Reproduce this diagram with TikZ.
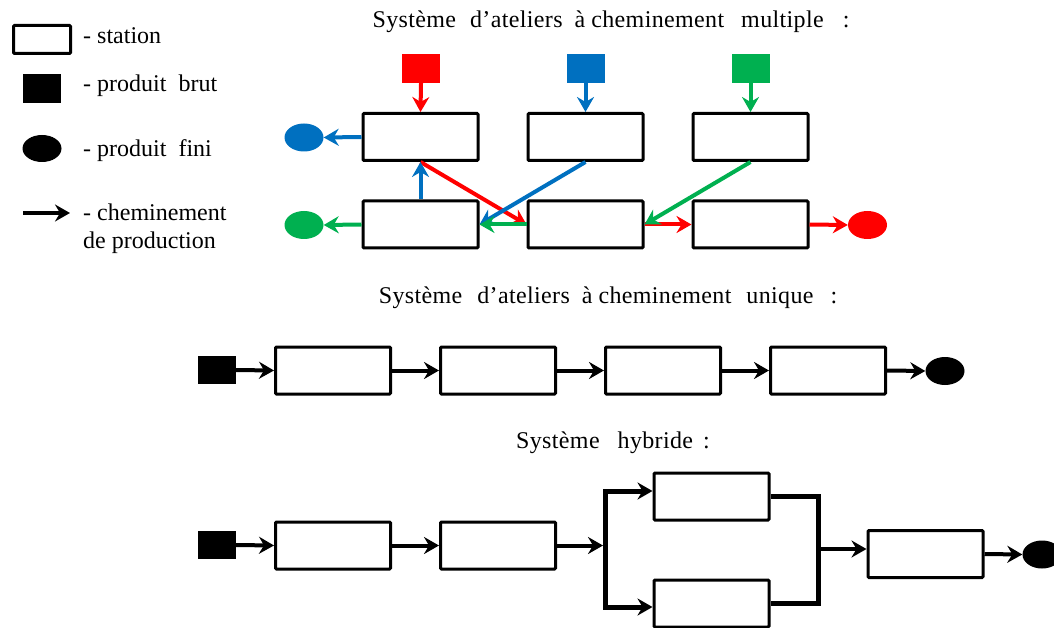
\documentclass[tikz,border=0pt]{standalone}
\usepackage{fontspec}
\setmainfont{Liberation Serif}
\usetikzlibrary{shapes.geometric,arrows.meta,calc}
\definecolor{cred}{HTML}{FF0000}
\definecolor{cblue}{HTML}{0070C0}
\definecolor{cgreen}{HTML}{00B050}
\newcommand{\gp}[1]{\hspace{#1pt}}
\begin{document}
\begin{tikzpicture}[x=1pt,y=-1pt,
  stationbox/.style={draw=black,line width=3pt,rectangle,rounded corners=1pt,fill=white,
     minimum width=115pt,minimum height=47pt,inner sep=0pt},
  rawsq/.style={rectangle,draw=none,minimum width=38pt,minimum height=29pt,inner sep=0pt},
  finiell/.style={ellipse,draw=none,minimum width=39pt,minimum height=28pt,inner sep=0pt},
  tip/.tip={Stealth[length=15pt,width=17pt,inset=5pt]},
  flow/.style={line width=4pt,-tip},
  bar/.style={line width=5pt,line join=miter},
  txt/.style={inner sep=0pt,anchor=base west,font=\fontsize{24}{28}\selectfont},
  ttl/.style={inner sep=0pt,anchor=base,font=\fontsize{24}{28}\selectfont\addfontfeature{LetterSpace=1.5}}
]
\useasboundingbox (0,0) rectangle (1054,628);
\clip (0,0) rectangle (1054,628);

% ---------- legend ----------
\node[stationbox,minimum width=57pt,minimum height=28pt] (lgst) at (42,39.5) {};
\node[rawsq,fill=black] (lgraw) at (42,88.5) {};
\node[finiell,fill=black,minimum height=27pt] (lgfin) at (42,148.5) {};
\coordinate (lga) at (23,213);
\coordinate (lgb) at (70,213);
\draw[flow] (lga) -- (lgb);
\node[txt] (t1) at (83,44) {- station};
\node[txt] (t2) at (83,92) {- produit\ \ brut};
\node[txt] (t3) at (83,157) {- produit\ \ fini};
\node[txt] (t4) at (83,221) {- cheminement};
\node[txt] (t5) at (83,249) {de production};

% ---------- titles ----------
\node[ttl] (ti1) at (611,28) {Système\gp{14}d’ateliers\gp{12}à\gp{6}cheminement\gp{17}multiple\gp{19}:};
\node[ttl] (ti2) at (608,303) {Système\gp{15}d’ateliers\gp{12}à\gp{6}cheminement\gp{15}unique\gp{17}:};
\node[ttl] (ti3) at (613,448) {Système\gp{18}hybride\gp{10}:};

% ---------- multiple ----------
\node[stationbox] (T1) at (420.5,137) {};
\node[stationbox] (T2) at (585.5,137) {};
\node[stationbox] (T3) at (750.5,137) {};
\node[stationbox] (B1) at (420.5,224.5) {};
\node[stationbox] (B2) at (585.5,224.5) {};
\node[stationbox] (B3) at (750.5,224.5) {};
\node[rawsq,fill=cred] (SR) at (421,68.5) {};
\node[rawsq,fill=cblue] (SB) at (585.5,68.5) {};
\node[rawsq,fill=cgreen] (SG) at (750.5,68.5) {};
\node[finiell,fill=cblue] (EB) at (304,137.5) {};
\node[finiell,fill=cgreen] (EG) at (304,225) {};
\node[finiell,fill=cred] (ER) at (867.5,225) {};

\draw[flow,cred] (SR.south) -- (T1.north);
\draw[flow,cblue] (SB.south) -- (T2.north);
\draw[flow,cgreen] (SG.south) -- (T3.north);
\draw[flow,cred] (T1.south) -- (B2.west);
\draw[flow,cred] (B2.east) -- (B3.west);
\draw[flow,cred] (B3.east) -- (ER.west);
\draw[flow,cblue] (T1.west) -- (EB.east);
\draw[flow,cblue] (B1.north) -- (T1.south);
\draw[flow,cblue] (T2.south) -- (B1.east);
\draw[flow,cgreen] (B2.west) -- (B1.east);
\draw[flow,cgreen] (B1.west) -- (EG.east);
\draw[flow,cgreen] (T3.south) -- (B2.east);

% ---------- unique ----------
\node[rawsq,fill=black,minimum height=28pt] (MS) at (216.5,370) {};
\node[stationbox] (M1) at (333,370.5) {};
\node[stationbox] (M2) at (498,370.5) {};
\node[stationbox] (M3) at (663,370.5) {};
\node[stationbox] (M4) at (828,370.5) {};
\node[finiell,fill=black] (ME) at (945,371) {};
\draw[flow] (MS.east) -- (M1.west);
\draw[flow] (M1.east) -- (M2.west);
\draw[flow] (M2.east) -- (M3.west);
\draw[flow] (M3.east) -- (M4.west);
\draw[flow] (M4.east) -- (ME.west);

% ---------- hybride ----------
\node[rawsq,fill=black,minimum height=28pt] (HS) at (216.5,545) {};
\node[stationbox] (H1) at (333,545.5) {};
\node[stationbox] (H2) at (498,545.5) {};
\node[stationbox] (HU) at (711.5,496.5) {};
\node[stationbox] (HD) at (711.5,603.5) {};
\node[stationbox] (HR) at (925.5,554) {};
\node[finiell,fill=black] (HE) at (1042,554.5) {};
\coordinate (lt) at (605,491);
\coordinate (lb) at (605,607);
\coordinate (lm) at (603,545.5);
\coordinate (rt) at (818,496.5);
\coordinate (rb) at (818,603.5);
\coordinate (rm) at (818,549);
\draw[flow] (HS.east) -- (H1.west);
\draw[flow] (H1.east) -- (H2.west);
\draw[flow] (H2.east) -- (lm);
\draw[bar,tip-tip] (lt -| HU.west) -- (lt) -- (lb) -- (lb -| HD.west);
\draw[bar] (HU.east) -- (rt) -- (rb) -- (HD.east);
\draw[flow] (rm) -- (rm -| HR.west);
\draw[flow] (HR.east) -- (HE.west);
\end{tikzpicture}
\end{document}
